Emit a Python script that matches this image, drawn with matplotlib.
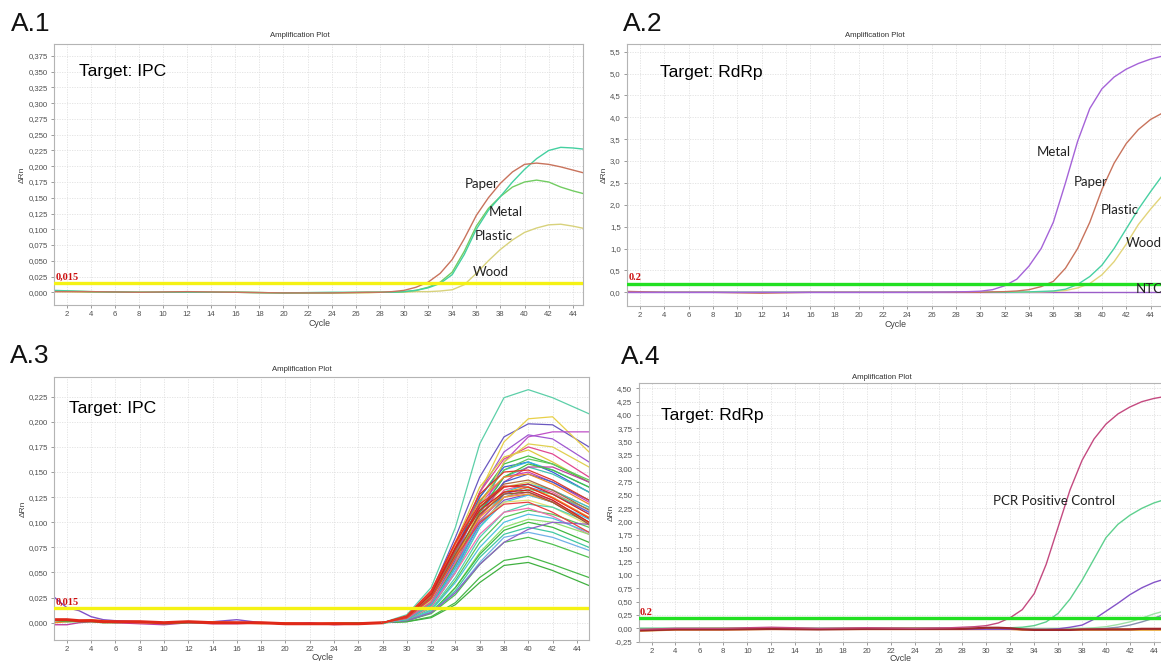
import matplotlib
matplotlib.use('Agg')
import matplotlib.pyplot as plt
from matplotlib.ticker import MultipleLocator, FuncFormatter

# ---------------- DATA ----------------
# shared cycle grid for A.1 / A.2 / A.4 (coarse baseline, every cycle after 27)
CYC = [1, 4, 8, 12, 16, 20, 24, 27, 28, 29, 30, 31, 32, 33, 34, 35, 36, 37, 38, 39, 40, 41, 42, 43, 44, 45]

# A.1  Target IPC (ΔRn)
a1_names = ["Paper", "Metal", "Plastic", "Wood"]
a1_paper = [0.001, 0.001, 0.000, 0.001, 0.000, -0.001, -0.001, 0.000, 0.000, 0.001, 0.003, 0.008, 0.016, 0.030, 0.052, 0.085, 0.122, 0.150, 0.173, 0.191, 0.203, 0.205, 0.203, 0.199, 0.194, 0.189]
a1_metal = [0.002, 0.001, 0.000, 0.000, 0.000, -0.001, -0.001, 0.000, 0.000, 0.000, 0.001, 0.003, 0.008, 0.016, 0.032, 0.065, 0.105, 0.133, 0.152, 0.167, 0.175, 0.178, 0.175, 0.167, 0.161, 0.156]
a1_plastic = [0.003, 0.001, 0.000, 0.000, 0.000, -0.001, 0.000, 0.000, 0.000, 0.000, 0.001, 0.003, 0.007, 0.014, 0.028, 0.060, 0.100, 0.130, 0.152, 0.175, 0.195, 0.212, 0.225, 0.230, 0.229, 0.227]
a1_wood = [0.001, 0.000, 0.000, 0.000, 0.000, -0.001, -0.001, -0.001, 0.000, 0.000, 0.000, 0.001, 0.001, 0.002, 0.004, 0.012, 0.030, 0.050, 0.068, 0.083, 0.095, 0.102, 0.107, 0.108, 0.105, 0.101]
a1_threshold = 0.015

# A.2  Target RdRp
a2_metal = [0.0, 0.0, 0.0, 0.0, 0.0, 0.0, 0.0, 0.005, 0.01, 0.015, 0.025, 0.06, 0.15, 0.30, 0.60, 1.00, 1.60, 2.50, 3.45, 4.20, 4.65, 4.92, 5.10, 5.23, 5.33, 5.40]
a2_paper = [0.02, 0.0, 0.0, -0.02, 0.0, 0.0, 0.0, 0.0, 0.0, 0.0, 0.0, 0.01, 0.015, 0.03, 0.06, 0.13, 0.25, 0.55, 1.00, 1.60, 2.35, 2.95, 3.40, 3.72, 3.95, 4.10]
a2_plastic = [0.0, 0.0, 0.0, 0.0, 0.0, 0.0, 0.0, 0.0, 0.0, 0.0, 0.0, 0.0, 0.0, 0.005, 0.01, 0.02, 0.03, 0.07, 0.18, 0.36, 0.62, 1.00, 1.45, 1.90, 2.30, 2.68]
a2_wood = [0.0, 0.0, 0.0, 0.0, 0.0, 0.0, 0.0, 0.0, 0.0, 0.0, 0.0, 0.0, 0.0, 0.0, 0.005, 0.01, 0.02, 0.04, 0.10, 0.20, 0.40, 0.70, 1.10, 1.55, 1.90, 2.22]
a2_ntc = [0.0] * 26
a2_threshold = 0.2

# A.3  Target IPC, many samples
A3_cycles = [28, 30, 32, 34, 36, 38, 40, 42, 45]
A3_curves = [
    [0, .008, .035, .095, .178, .224, .232, .224, .208],
    [0, .006, .030, .085, .145, .185, .198, .197, .175],
    [0, .004, .020, .065, .130, .180, .203, .205, .170],
    [0, .003, .015, .050, .105, .160, .185, .190, .190],
    [0, .004, .022, .070, .130, .170, .187, .183, .160],
    [0, .005, .025, .075, .130, .163, .175, .168, .145],
    [0, .005, .027, .080, .135, .165, .172, .160, .140],
    [0, .004, .022, .070, .125, .158, .166, .158, .140],
    [0, .004, .023, .072, .125, .155, .160, .150, .130],
    [0, .003, .020, .065, .120, .152, .160, .152, .135],
    [0, .003, .020, .068, .120, .152, .163, .158, .142],
    [0, .003, .018, .060, .112, .145, .155, .148, .130],
    [0, .004, .022, .068, .118, .145, .150, .140, .120],
    [0, .004, .022, .065, .110, .135, .140, .132, .115],
    [0, .004, .020, .060, .105, .132, .138, .130, .110],
    [0, .003, .018, .058, .100, .128, .135, .128, .110],
    [0, .002, .015, .050, .095, .125, .133, .128, .113],
    [0, .003, .016, .052, .095, .120, .127, .120, .103],
    [0, .003, .017, .055, .098, .122, .128, .120, .100],
    [0, .004, .020, .060, .100, .120, .122, .115, .097],
    [0, .002, .013, .045, .085, .110, .118, .115, .100],
    [0, .002, .012, .042, .080, .105, .112, .108, .095],
    [0, .003, .016, .050, .088, .110, .114, .106, .088],
    [0, .002, .012, .040, .075, .100, .108, .104, .090],
    [0, .002, .010, .035, .070, .095, .103, .100, .088],
    [0, .002, .010, .035, .068, .092, .100, .095, .080],
    [0, .002, .010, .032, .065, .088, .095, .090, .075],
    [0, .002, .010, .030, .060, .085, .090, .085, .072],
    [0, .002, .009, .028, .058, .080, .085, .078, .065],
    [0, .001, .006, .020, .045, .062, .066, .058, .045],
    [0, .001, .005, .018, .040, .057, .060, .052, .037],
    [0, .002, .010, .030, .058, .080, .093, .100, .098],
    [0, .003, .018, .058, .105, .140, .155, .155, .140],
    [0, .004, .020, .062, .110, .140, .148, .140, .122],
    [0, .003, .018, .060, .115, .160, .178, .175, .155],
    [0, .003, .018, .058, .110, .145, .158, .152, .135],
    [0, .003, .018, .055, .100, .130, .138, .132, .115],
    [0, .004, .020, .060, .102, .125, .130, .122, .100],
    [0, .005, .026, .072, .115, .138, .142, .132, .112],
    [0, .005, .025, .068, .105, .125, .128, .120, .100],
    [0, .005, .024, .066, .108, .130, .135, .125, .105],
    [0, .005, .025, .068, .108, .128, .130, .120, .098],
    [0, .006, .030, .078, .122, .145, .148, .138, .118],
    [0, .005, .024, .065, .100, .118, .120, .110, .090],
    [0, .006, .029, .075, .115, .135, .138, .128, .108],
    [0, .006, .028, .074, .112, .130, .132, .122, .100],
    [0, .006, .030, .080, .128, .150, .152, .142, .122],
    [0, .007, .032, .080, .118, .136, .135, .124, .104],
]
A3_colors = ['#5ccfa8', '#6a58c0', '#e8d048', '#c050c8', '#a058d0', '#e04890', '#e0c840', '#48c048',
             '#3860d8', '#30b8e0', '#60c860', '#40c0b0', '#d040b0', '#d8d060', '#f060a0', '#5070e0',
             '#70d070', '#40c8e8', '#8050c8', '#e0e070', '#50d0b0', '#58c858', '#f070b0', '#50c0e0',
             '#90e070', '#40b840', '#40c8a0', '#70b0e8', '#50c050', '#48b848', '#40b040', '#9060c8',
             '#c040a0', '#4060d0', '#e0d050', '#48c040', '#38c0d8', '#e060a0', '#b06840', '#f0a030',
             '#f09020', '#a05030', '#f08828', '#e84040', '#c82828', '#d02020', '#e03828', '#e83020']
A3_base_cycles = [1, 2, 3, 4, 5, 6, 8, 10, 12, 14, 16, 18, 20, 22, 24, 26, 28]
A3_baselines = [
    [0.025, 0.015, 0.012, 0.006, 0.003, 0.002, 0.001, 0.000, 0.000, 0.001, 0.003, 0.000, 0.000, -0.001, -0.001, 0.000, 0.0],
    [-0.002, -0.002, 0.000, 0.001, 0.001, 0.000, -0.001, -0.002, 0.000, -0.001, -0.001, 0.000, -0.001, 0.000, -0.002, -0.001, 0.0],
    [0.000, 0.001, 0.002, 0.003, 0.002, 0.001, 0.000, 0.000, 0.001, 0.001, 0.000, -0.001, 0.000, -0.001, 0.000, 0.000, 0.0],
    [0.002, 0.001, 0.001, 0.001, 0.000, 0.000, 0.001, -0.001, 0.000, 0.000, 0.000, 0.000, -0.001, -0.001, -0.001, 0.000, 0.0],
    [0.003, 0.003, 0.002, 0.002, 0.001, 0.001, 0.001, 0.000, 0.001, 0.000, 0.000, 0.000, -0.001, -0.001, -0.001, -0.001, 0.0],
]
A3_base_colors = ['#8050c8', '#c040a0', '#f08828', '#48c048', '#e02818']
a3_threshold = 0.015

# A.4  Target RdRp, controls
a4_pcr = [-0.02, 0.0, 0.0, 0.02, 0.0, 0.01, 0.0, 0.01, 0.02, 0.03, 0.05, 0.10, 0.20, 0.35, 0.65, 1.20, 1.90, 2.60, 3.15, 3.55, 3.83, 4.02, 4.15, 4.25, 4.31, 4.35]
a4_green = [0.0, 0.0, 0.0, 0.0, 0.0, 0.0, 0.0, 0.0, 0.0, 0.0, 0.0, 0.0, 0.01, 0.02, 0.05, 0.12, 0.28, 0.55, 0.90, 1.30, 1.70, 1.95, 2.12, 2.25, 2.35, 2.42]
a4_purple = [-0.02, -0.02, -0.02, -0.02, -0.02, -0.02, -0.02, -0.02, -0.02, -0.02, -0.02, -0.02, -0.02, -0.02, -0.02, -0.02, -0.01, 0.02, 0.06, 0.17, 0.32, 0.47, 0.63, 0.76, 0.86, 0.93]
a4_lightgreen = [0.0, 0.0, 0.0, 0.0, 0.0, 0.0, 0.0, 0.0, 0.0, 0.0, 0.0, 0.0, 0.0, 0.0, 0.0, 0.0, 0.0, 0.0, 0.0, 0.01, 0.03, 0.07, 0.12, 0.19, 0.27, 0.33]
a4_grey = [-0.01, -0.01, -0.01, -0.01, -0.01, -0.01, -0.01, -0.01, -0.01, -0.01, -0.01, -0.01, -0.01, -0.01, -0.01, -0.01, -0.02, -0.02, -0.02, -0.01, 0.0, 0.02, 0.06, 0.12, 0.19, 0.27]
a4_base_red = [-0.04, -0.02, -0.02, -0.01, -0.02, -0.01, -0.01, -0.01, -0.01, 0.0, 0.01, 0.01, 0.0, -0.02, -0.03, -0.03, -0.03, -0.03, -0.02, -0.02, -0.02, -0.02, -0.02, -0.01, -0.01, -0.01]
a4_base_orange = [-0.05, -0.03, -0.03, -0.02, -0.02, -0.02, -0.02, -0.02, -0.02, -0.02, -0.02, -0.02, -0.02, -0.03, -0.03, -0.03, -0.03, -0.03, -0.03, -0.03, -0.03, -0.03, -0.03, -0.03, -0.03, -0.03]
a4_base_yellow = [-0.03, -0.01, 0.0, 0.0, -0.01, 0.0, 0.0, -0.01, 0.0, 0.0, 0.0, 0.0, -0.01, -0.01, -0.02, -0.02, -0.02, -0.02, -0.02, -0.02, -0.02, -0.02, -0.02, -0.02, -0.02, -0.02]
a4_threshold = 0.2

# ---------------- FIGURE ----------------
W, H = 1161, 661
fig = plt.figure(figsize=(W / 100, H / 100), dpi=100)
fig.patch.set_facecolor('white')

SANS = ['Liberation Sans', 'DejaVu Sans']
CAL = ['Lato', 'DejaVu Sans']


def rect(l, t, r, b):
    return [l / W, 1 - b / H, (r - l) / W, (b - t) / H]


def fmt_factory(ydec):
    def f(v, p):
        s = f"{v:.{ydec}f}"
        if s.startswith('-') and abs(v) < 1e-9:
            s = s[1:]
        return s.replace('.', ',')
    return FuncFormatter(f)


def style(ax, xlim, ylim, ystep, ydec, title_x, title_dy, ylab_x, cycle_dy, hide_right=False):
    ax.set_xlim(*xlim)
    ax.set_ylim(*ylim)
    ax.xaxis.set_major_locator(MultipleLocator(2))
    ax.yaxis.set_major_locator(MultipleLocator(ystep))
    ax.yaxis.set_major_formatter(fmt_factory(ydec))
    ax.xaxis.set_major_formatter(FuncFormatter(lambda v, p: f"{int(round(v))}"))
    ax.grid(True, color='#e0e0e0', linestyle=(0, (1.5, 1.5)), lw=0.6)
    ax.set_axisbelow(True)
    ax.tick_params(labelsize=5.6, colors='#8a8a8a', labelcolor='#505050', length=2.5, width=0.6, pad=2)
    for lab in ax.get_xticklabels() + ax.get_yticklabels():
        lab.set_family(SANS)
    for s in ax.spines.values():
        s.set_color('#b4b4b4')
        s.set_linewidth(0.8)
    if hide_right:
        ax.spines['right'].set_visible(False)
    ax.text(title_x, 1 + title_dy, 'Amplification Plot', transform=ax.transAxes, ha='center', va='center',
            fontsize=5.6, color='#303030', family=SANS)
    ax.text(ylab_x, 0.5, 'ΔRn', transform=ax.transAxes, ha='center', va='center', rotation=90,
            fontsize=6, color='#404040', family=SANS)
    ax.text(0.502, -cycle_dy, 'Cycle', transform=ax.transAxes, ha='center', va='center',
            fontsize=6.3, color='#404040', family=SANS)


def threshold(ax, y, color, label):
    ax.axhline(y, color=color, lw=2.4, zorder=5)
    ax.annotate(label, xy=(0.003, y), xycoords=ax.get_yaxis_transform(), xytext=(0, 0.8),
                textcoords='offset points', ha='left', va='bottom', fontsize=7.5, color='#cc1010',
                family=['Liberation Serif', 'DejaVu Serif'], fontweight='bold', zorder=6)


# ---- A.1 ----
ax1 = fig.add_axes(rect(54, 44, 583, 305))
ax1.plot(CYC, a1_wood, color='#d8d27c', lw=1.0)
ax1.plot(CYC, a1_metal, color='#72cc62', lw=1.0)
ax1.plot(CYC, a1_plastic, color='#44d0a0', lw=1.0)
ax1.plot(CYC, a1_paper, color='#c8735c', lw=1.0)
style(ax1, (0.96, 44.85), (-0.0202, 0.394), 0.025, 3, 0.465, 0.031, -0.06, 0.069)
threshold(ax1, a1_threshold, '#f5f214', '0,015')
ax1.text(0.047, 0.893, 'Target: IPC', transform=ax1.transAxes, fontsize=12.6, family=SANS, va='center')
for name, cx, cy in zip(a1_names, [35.06, 37.05, 35.9, 35.7], [0.172, 0.127, 0.0893, 0.0327]):
    ax1.text(cx, cy, name, fontsize=9.5, family=CAL, va='center', ha='left', color='#222222', zorder=7)

# ---- A.2 ----
ax2 = fig.add_axes(rect(627, 44, 1161, 306))
ax2.plot(CYC, a2_ntc, color='#9a5cc8', lw=1.0)
ax2.plot(CYC, a2_wood, color='#e2d47a', lw=1.0)
ax2.plot(CYC, a2_plastic, color='#48d0a2', lw=1.0)
ax2.plot(CYC, a2_paper, color='#c8735c', lw=1.0)
ax2.plot(CYC, a2_metal, color='#a563d8', lw=1.0)
style(ax2, (0.93, 44.86), (-0.313, 5.675), 0.5, 1, 0.464, 0.031, -0.043, 0.069, hide_right=True)
threshold(ax2, a2_threshold, '#22e022', '0.2')
ax2.text(0.062, 0.893, 'Target: RdRp', transform=ax2.transAxes, fontsize=12.6, family=SANS, va='center')
for name, cx, cy in zip(["Metal", "Paper", "Plastic", "Wood", "NTC"],
                        [34.6, 37.68, 39.88, 41.95, 42.75], [3.21, 2.51, 1.88, 1.13, 0.07]):
    ax2.text(cx, cy, name, fontsize=9.5, family=CAL, va='center', ha='left', color='#222222', zorder=7)

# ---- A.3 ----
ax3 = fig.add_axes(rect(54, 377, 589, 640))
for vals, col in zip(A3_baselines, A3_base_colors):
    ax3.plot(A3_base_cycles, vals, color=col, lw=1.0)
ax3.plot(A3_base_cycles, A3_baselines[-1], color='#e02818', lw=2.2)
for vals, col in zip(A3_curves, A3_colors):
    ax3.plot(A3_cycles, vals, color=col, lw=0.9)
style(ax3, (0.94, 45.0), (-0.0172, 0.2446), 0.025, 3, 0.463, 0.030, -0.058, 0.067)
threshold(ax3, a3_threshold, '#f5f214', '0,015')
ax3.text(0.028, 0.882, 'Target: IPC', transform=ax3.transAxes, fontsize=12.6, family=SANS, va='center')

# ---- A.4 ----
ax4 = fig.add_axes(rect(638.5, 383, 1161, 642))
ax4.plot(CYC, a4_base_orange, color='#e89028', lw=1.2)
ax4.plot(CYC, a4_base_yellow, color='#e0c820', lw=1.2)
ax4.plot(CYC, a4_grey, color='#8890b0', lw=1.0)
ax4.plot(CYC, a4_lightgreen, color='#9ee0a8', lw=1.0)
ax4.plot(CYC, a4_purple, color='#8454c8', lw=1.0)
ax4.plot(CYC, a4_green, color='#5ed08e', lw=1.0)
ax4.plot(CYC, a4_base_red, color='#a0282c', lw=1.6)
ax4.plot(CYC, a4_pcr, color='#c44a80', lw=1.0)
style(ax4, (0.91, 44.6), (-0.257, 4.60), 0.25, 2, 0.466, 0.023, -0.052, 0.062, hide_right=True)
threshold(ax4, a4_threshold, '#22e022', '0.2')
ax4.text(0.043, 0.873, 'Target: RdRp', transform=ax4.transAxes, fontsize=12.6, family=SANS, va='center')
ax4.text(30.58, 2.39, 'PCR Positive Control', fontsize=9.5, family=CAL, va='center', ha='left',
         color='#222222', zorder=7)

# ---- panel letters ----
for lbl, x, y in [('A.1', 11, 24), ('A.2', 623, 24), ('A.3', 10, 356), ('A.4', 621, 357)]:
    fig.text(x / W, 1 - y / H, lbl, fontsize=19, family=SANS, ha='left', va='center', color='#111111')

fig.savefig('out.png', dpi=100, facecolor='white')
